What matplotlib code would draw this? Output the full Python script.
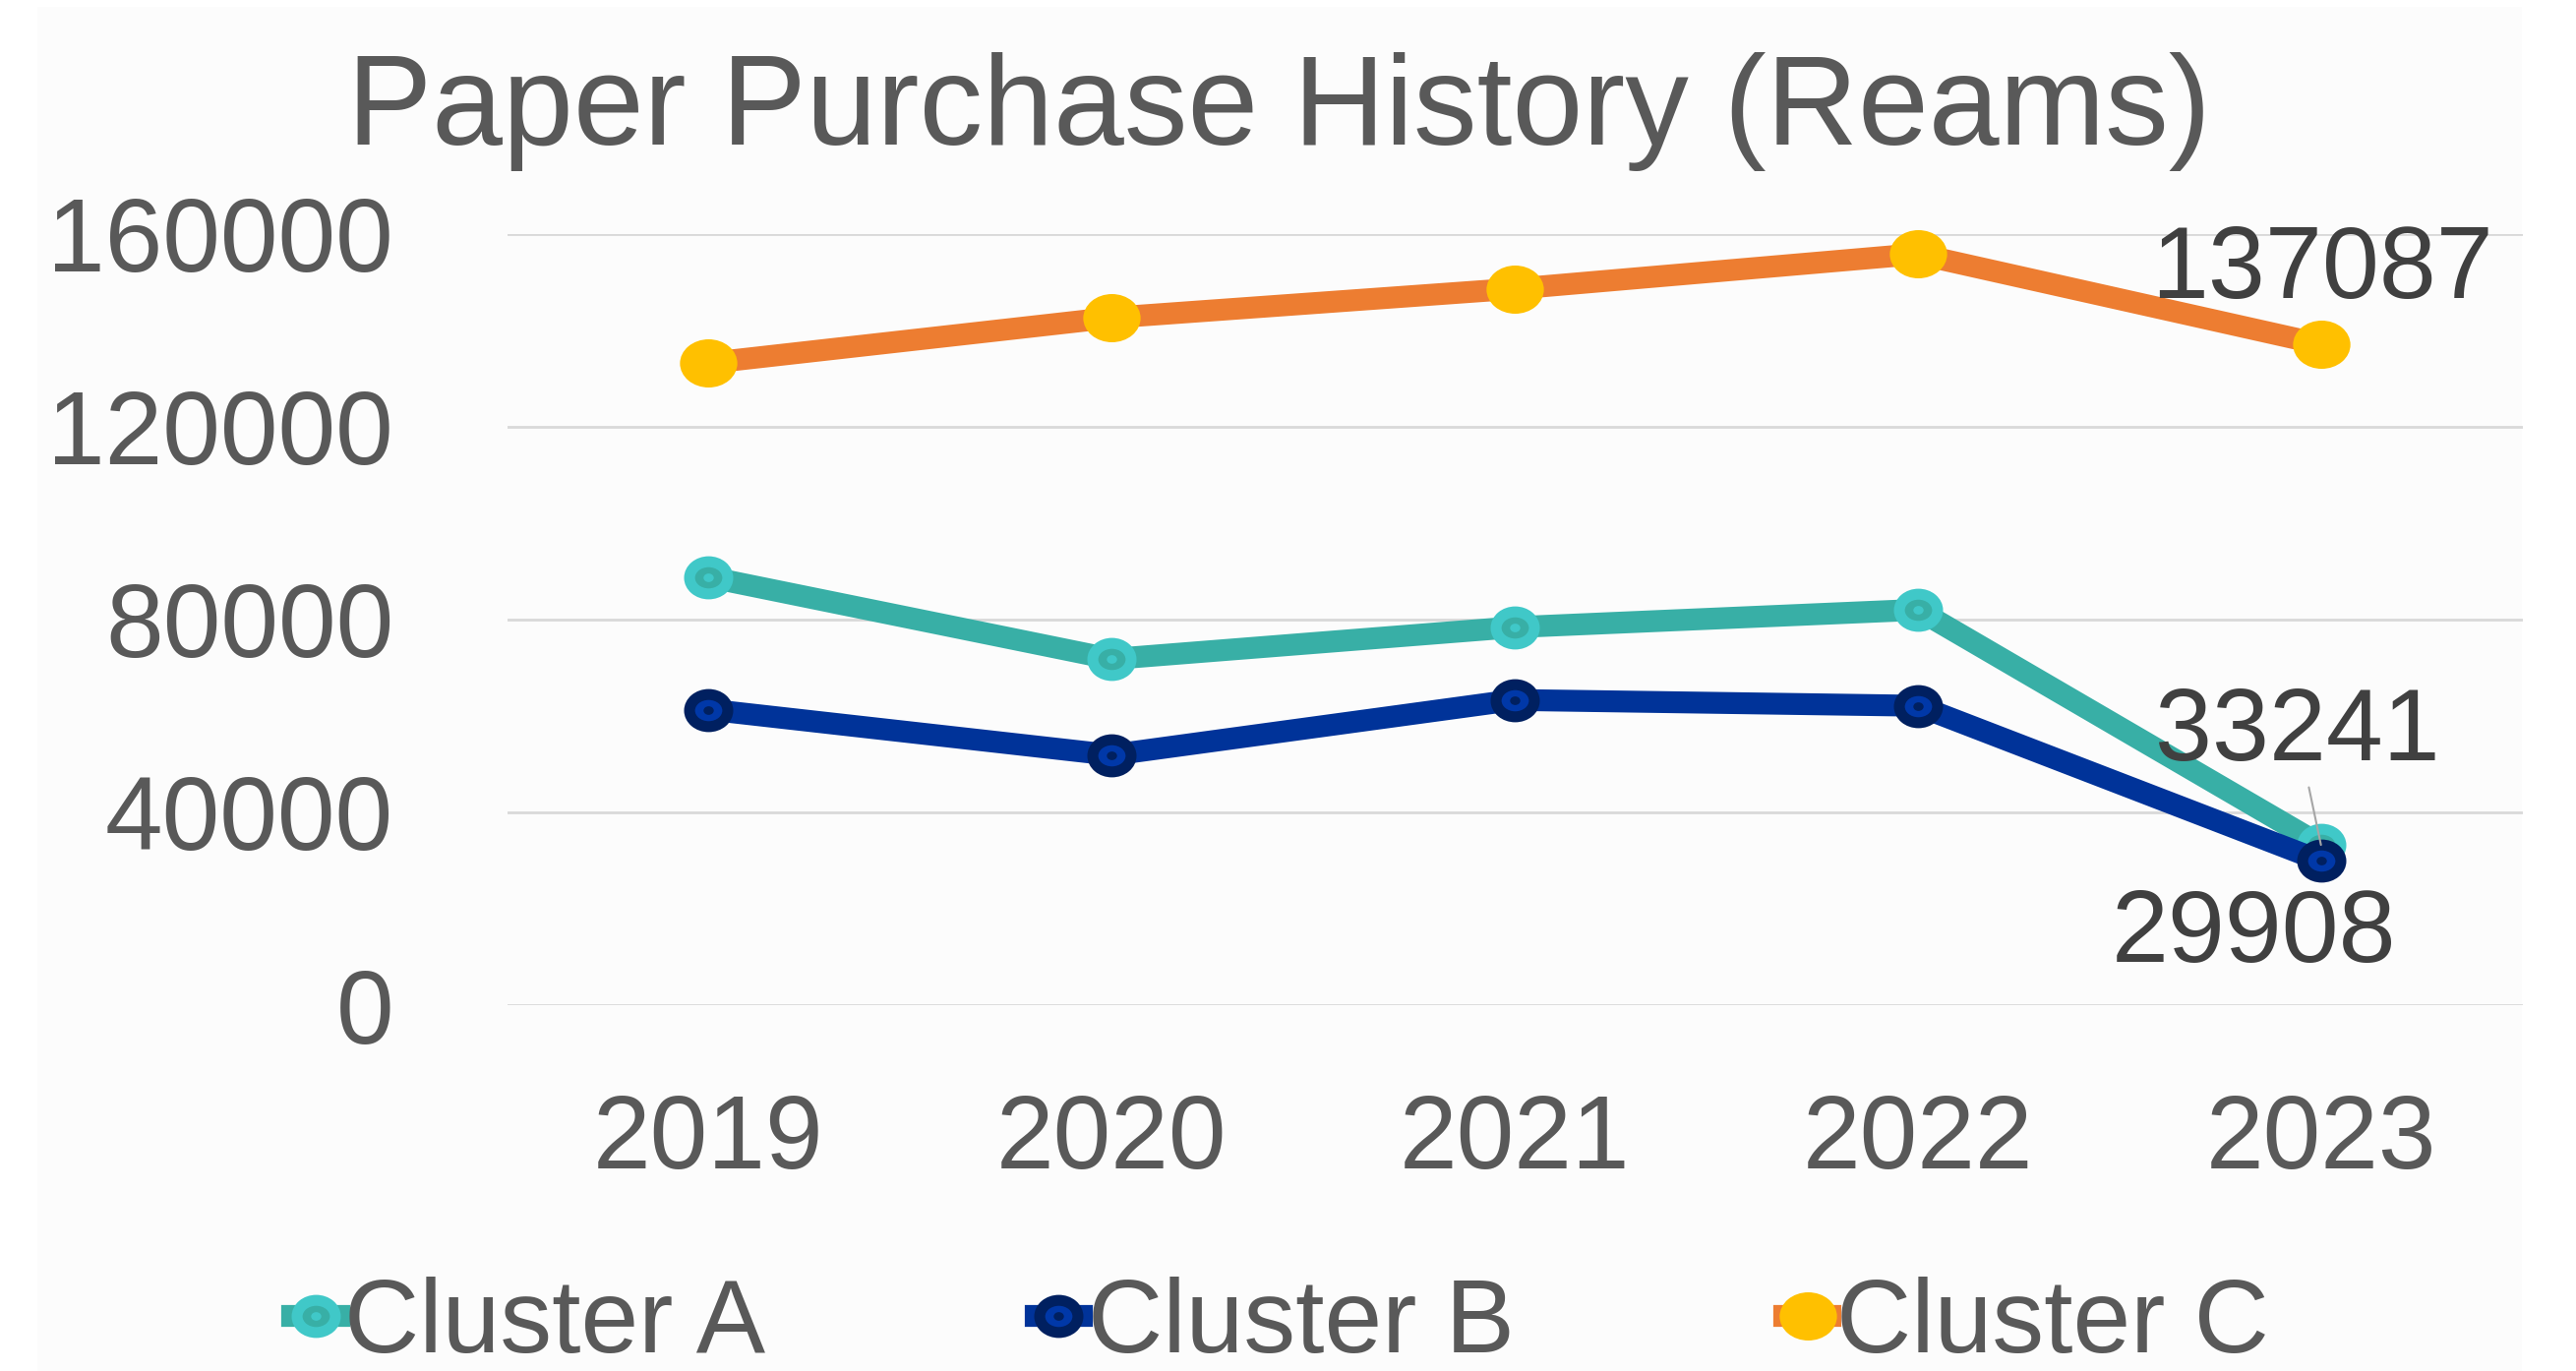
import matplotlib.pyplot as plt
from matplotlib.patches import Rectangle
from matplotlib.path import Path
from matplotlib.transforms import Affine2D

plt.rcParams['font.family'] = ['Liberation Sans', 'DejaVu Sans']

years = ['2019', '2020', '2021', '2022', '2023']
cluster_a = [88800, 71800, 78400, 82000, 33241]
cluster_b = [61300, 51900, 63300, 62100, 29908]
cluster_c = [133200, 142600, 148600, 155800, 137087]
y_ticks = [0, 40000, 80000, 120000, 160000]

W, H = 2619, 1394
fig = plt.figure(figsize=(W / 100, H / 100), dpi=100)
fig.patch.set_facecolor('white')
bg = Rectangle((38 / W, 0), (2564 - 38) / W, 1 - 7 / H,
               transform=fig.transFigure, facecolor='#fcfcfc',
               edgecolor='none', zorder=-5)
fig.add_artist(bg)

ax = fig.add_axes([515.5 / W, 1 - 1022 / H, (2564.6 - 515.5) / W, (1022 - 237.7) / H])
ax.set_facecolor('none')

# slightly flattened round marker, like the stretched excel chart
oval = Path.unit_circle().transformed(Affine2D().scale(1, 0.84))

x = range(len(years))
txt = '#595959'

la, = ax.plot(x, cluster_a, color='#38afa6', lw=16, marker=oval, ms=28,
              mfc='#38afa6', mec='#40c8c8', mew=8, clip_on=False, zorder=3)
da, = ax.plot(x, cluster_a, ls='none', marker=oval, ms=7.5, mfc='#40c8c8',
              mec='none', clip_on=False, zorder=3)
lb, = ax.plot(x, cluster_b, color='#003399', lw=16, marker=oval, ms=28,
              mfc='#0038a8', mec='#002060', mew=8, clip_on=False, zorder=4)
db, = ax.plot(x, cluster_b, ls='none', marker=oval, ms=7.5, mfc='#002060',
              mec='none', clip_on=False, zorder=4)
lc, = ax.plot(x, cluster_c, color='#ed7d31', lw=16, marker=oval, ms=42,
              mfc='#ffc000', mec='#ffc000', mew=0, clip_on=False, zorder=5)

ax.set_xlim(-0.5, len(years) - 0.5)
ax.set_ylim(0, 160000)
ax.set_xticks(list(x))
ax.set_xticklabels(years)
ax.set_yticks(y_ticks)
ax.set_yticklabels([str(v) for v in y_ticks])
ax.tick_params(axis='both', length=0, labelsize=76, colors=txt)
ax.tick_params(axis='y', pad=83)
ax.tick_params(axis='x', pad=64)
ax.grid(axis='y', color='#d9d9d9', lw=2)
ax.set_axisbelow(True)
for s in ax.spines.values():
    s.set_visible(False)

lab = '#404040'
ax.annotate(str(cluster_c[-1]), (4, cluster_c[-1]), xytext=(1, 53),
            textcoords='offset points', ha='center', va='center',
            fontsize=75, color=lab, zorder=6)
ax.annotate(str(cluster_a[-1]), (4, cluster_a[-1]), xytext=(-17, 81),
            textcoords='offset points', ha='center', va='center',
            fontsize=75, color=lab, zorder=6,
            arrowprops=dict(arrowstyle='-', color='#a6a6a6', lw=1.5,
                            shrinkA=2, shrinkB=0))
ax.annotate(str(cluster_b[-1]), (4, cluster_b[-1]), xytext=(-49, -55),
            textcoords='offset points', ha='center', va='center',
            fontsize=75, color=lab, zorder=6)

fig.text(1300 / W, 1 - 147 / H, 'Paper Purchase History (Reams)',
         ha='center', va='baseline', fontsize=93, color=txt)

fig.legend([(la, da), (lb, db), lc], ['Cluster A', 'Cluster B', 'Cluster C'],
           loc='center', bbox_to_anchor=(1302 / W, 1 - 1347 / H), ncol=3,
           frameon=False, fontsize=76, labelcolor=txt, handlelength=0.45,
           handletextpad=0.05, columnspacing=2.6, borderpad=0)

fig.savefig('out.png', dpi=100, facecolor=fig.get_facecolor())
